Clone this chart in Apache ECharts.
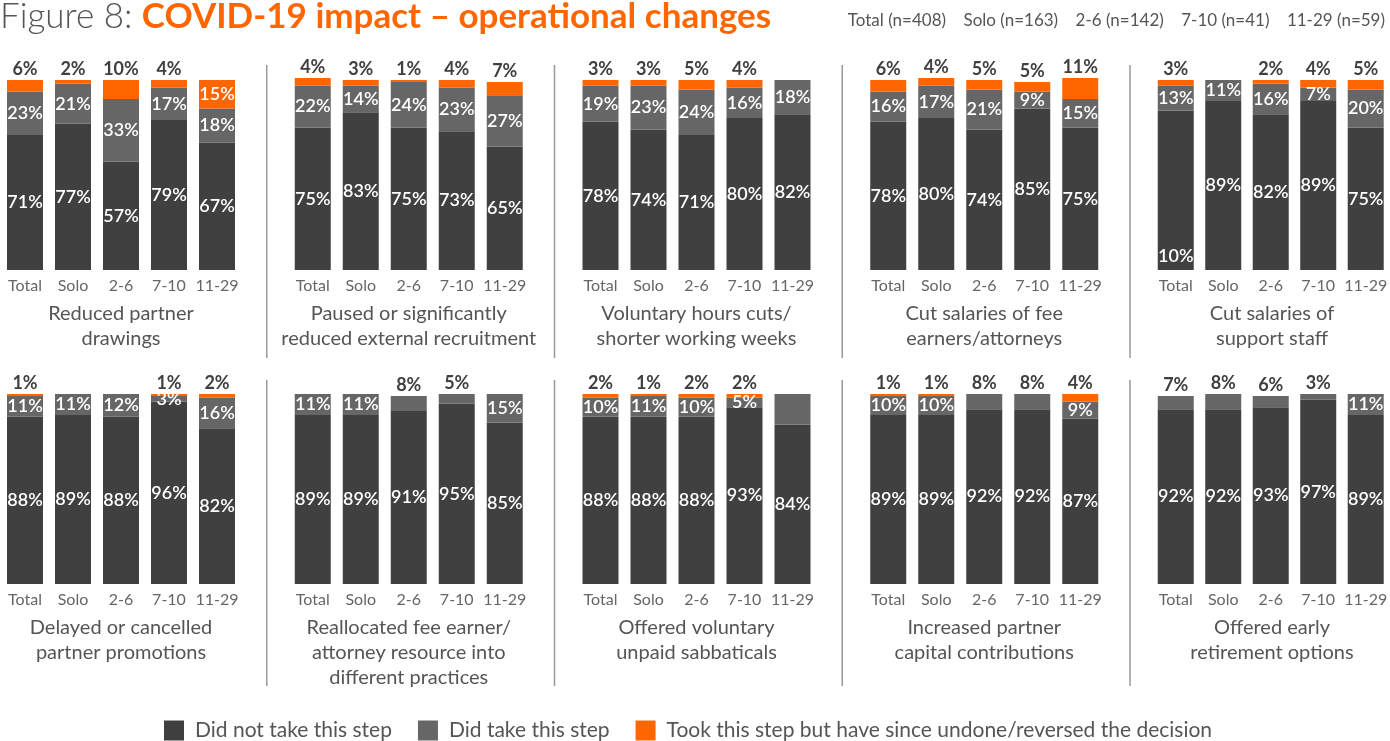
<!DOCTYPE html>
<html>
<head>
<meta charset="utf-8">
<script src="https://cdn.jsdelivr.net/npm/echarts@6/dist/echarts.min.js"></script>
<style>
  html, body { margin: 0; padding: 0; background: #fff; }
  #chart { width: 1390px; height: 741px; }
</style>
</head>
<body>
<div id="chart"></div>
<script>
var categories = ['Total', 'Solo', '2-6', '7-10', '11-29'];
var groupSizes = ['Total (n=408)', 'Solo (n=163)', '2-6 (n=142)', '7-10 (n=41)', '11-29 (n=59)'];
var seriesNames = ['Did not take this step', 'Did take this step', 'Took this step but have since undone/reversed the decision'];

var panelTitles = [
  'Reduced partner\ndrawings',
  'Paused or significantly\nreduced external recruitment',
  'Voluntary hours cuts/\nshorter working weeks',
  'Cut salaries of fee\nearners/attorneys',
  'Cut salaries of\nsupport staff',
  'Delayed or cancelled\npartner promotions',
  'Reallocated fee earner/\nattorney resource into\ndifferent practices',
  'Offered voluntary\nunpaid sabbaticals',
  'Increased partner\ncapital contributions',
  'Offered early\nretirement options'
];

var notTaken = [
  [71, 77, 57, 79, 67],
  [75, 83, 75, 73, 65],
  [78, 74, 71, 80, 82],
  [78, 80, 74, 85, 75],
  [84, 89, 82, 89, 75],
  [88, 89, 88, 96, 82],
  [89, 89, 91, 95, 85],
  [88, 88, 88, 93, 84],
  [89, 89, 92, 92, 87],
  [92, 92, 93, 97, 89]
];
var taken = [
  [23, 21, 33, 17, 18],
  [22, 14, 24, 23, 27],
  [19, 23, 24, 16, 18],
  [16, 17, 21, 9, 15],
  [13, 11, 16, 7, 20],
  [11, 11, 12, 3, 16],
  [11, 11, 8, 5, 15],
  [10, 11, 10, 5, 16],
  [10, 10, 8, 8, 9],
  [7, 8, 6, 3, 11]
];
var undone = [
  [6, 2, 10, 4, 15],
  [4, 3, 1, 4, 7],
  [3, 3, 5, 4, 0],
  [6, 4, 5, 5, 11],
  [3, 0, 2, 4, 5],
  [1, 0, 0, 1, 2],
  [0, 0, 0, 0, 0],
  [2, 1, 2, 2, 0],
  [1, 1, 0, 0, 4],
  [0, 0, 0, 0, 0]
];

// labels in the original that differ from the bar value
var labelQuirks = [
  { panel: 4, series: 0, cat: 0, text: '10%', position: 'insideBottom' },
  { panel: 7, series: 1, cat: 4, text: '' }
];

var colors = ['#404040', '#666666', '#ff6600'];

function buildChart() {
  var FONT = 'Lato';
  var chart = echarts.init(document.getElementById('chart'));

  var grids = [], xAxes = [], yAxes = [], series = [], titles = [], graphics = [];

  var inLabel = { show: true, position: 'inside', color: '#fff', fontSize: 18, fontWeight: 600, fontFamily: FONT };
  var topLabel = { show: true, position: 'top', distance: 2, color: '#404040', fontSize: 18, fontWeight: 'bold', fontFamily: FONT };

  function findQuirk(p, s, c) {
    for (var i = 0; i < labelQuirks.length; i++) {
      var q = labelQuirks[i];
      if (q.panel === p && q.series === s && q.cat === c) return q;
    }
    return null;
  }

  for (var p = 0; p < 10; p++) {
    var row = Math.floor(p / 5), col = p % 5;
    var gLeft = 1 + col * 287.75;
    var gTop = row === 0 ? 80 : 394;
    grids.push({ left: gLeft, top: gTop, width: 240, height: 190 });
    xAxes.push({
      type: 'category', gridIndex: p, data: categories,
      axisLine: { show: false }, axisTick: { show: false },
      axisLabel: { interval: 0, color: '#666', fontSize: 16, fontFamily: FONT, margin: 8 }
    });
    yAxes.push({ type: 'value', gridIndex: p, min: 0, max: 100, show: false, splitLine: { show: false } });

    var sets = [notTaken[p], taken[p], undone[p]];
    for (var s = 0; s < 3; s++) {
      var items = sets[s].map(function (v, c) {
        var lbl;
        if (v === 0) {
          lbl = { show: false };
        } else if (s === 0) {
          lbl = inLabel;
        } else if (s === 1) {
          lbl = (undone[p][c] === 0 && v <= 8) ? topLabel : inLabel;
        } else {
          lbl = v >= 13 ? inLabel : topLabel;
        }
        lbl = Object.assign({}, lbl, { formatter: v + '%' });
        var q = findQuirk(p, s, c);
        if (q) {
          lbl.formatter = q.text;
          if (q.position) lbl.position = q.position;
        }
        return { value: v, label: lbl };
      });
      series.push({
        name: seriesNames[s], type: 'bar', stack: 'p' + p,
        xAxisIndex: p, yAxisIndex: p, barWidth: 36, clip: false,
        itemStyle: { color: colors[s] },
        data: items
      });
    }

    titles.push({
      text: panelTitles[p], left: gLeft + 120, top: row === 0 ? 301 : 615, textAlign: 'center', padding: 0,
      textStyle: { color: '#555', fontSize: 20, fontWeight: 'normal', fontFamily: FONT, lineHeight: 25 }
    });

    if (col > 0) {
      graphics.push({
        type: 'line',
        shape: { x1: gLeft - 22, y1: row === 0 ? 65 : 380, x2: gLeft - 22, y2: row === 0 ? 358 : 686 },
        style: { stroke: '#999', lineWidth: 1.5 }
      });
    }
  }

  titles.push({
    text: '{a|Figure 8: }{b|COVID-19 impact – operational changes}',
    left: 0, top: -1, padding: 0,
    textStyle: {
      rich: {
        a: { fontSize: 35, color: '#555', fontWeight: 300, fontFamily: FONT },
        b: { fontSize: 35, color: '#ff6600', fontWeight: 'bold', fontFamily: FONT }
      }
    }
  });
  titles.push({
    text: groupSizes.join('    '),
    right: 5, top: 12, padding: 0,
    textStyle: { color: '#555', fontSize: 17, fontWeight: 'normal', fontFamily: FONT }
  });

  var option = {
    animation: false,
    title: titles,
    grid: grids,
    xAxis: xAxes,
    yAxis: yAxes,
    series: series,
    graphic: graphics,
    legend: {
      data: seriesNames,
      left: 164, top: 720, padding: 0,
      icon: 'rect', itemWidth: 20, itemHeight: 20, itemGap: 26,
      textStyle: { color: '#555', fontSize: 21, fontFamily: FONT, padding: [0, 0, 0, 6] }
    }
  };

  chart.setOption(option);
  window.addEventListener('resize', function () {
    chart.resize();
  });
}

buildChart();
</script>
</body>
</html>
